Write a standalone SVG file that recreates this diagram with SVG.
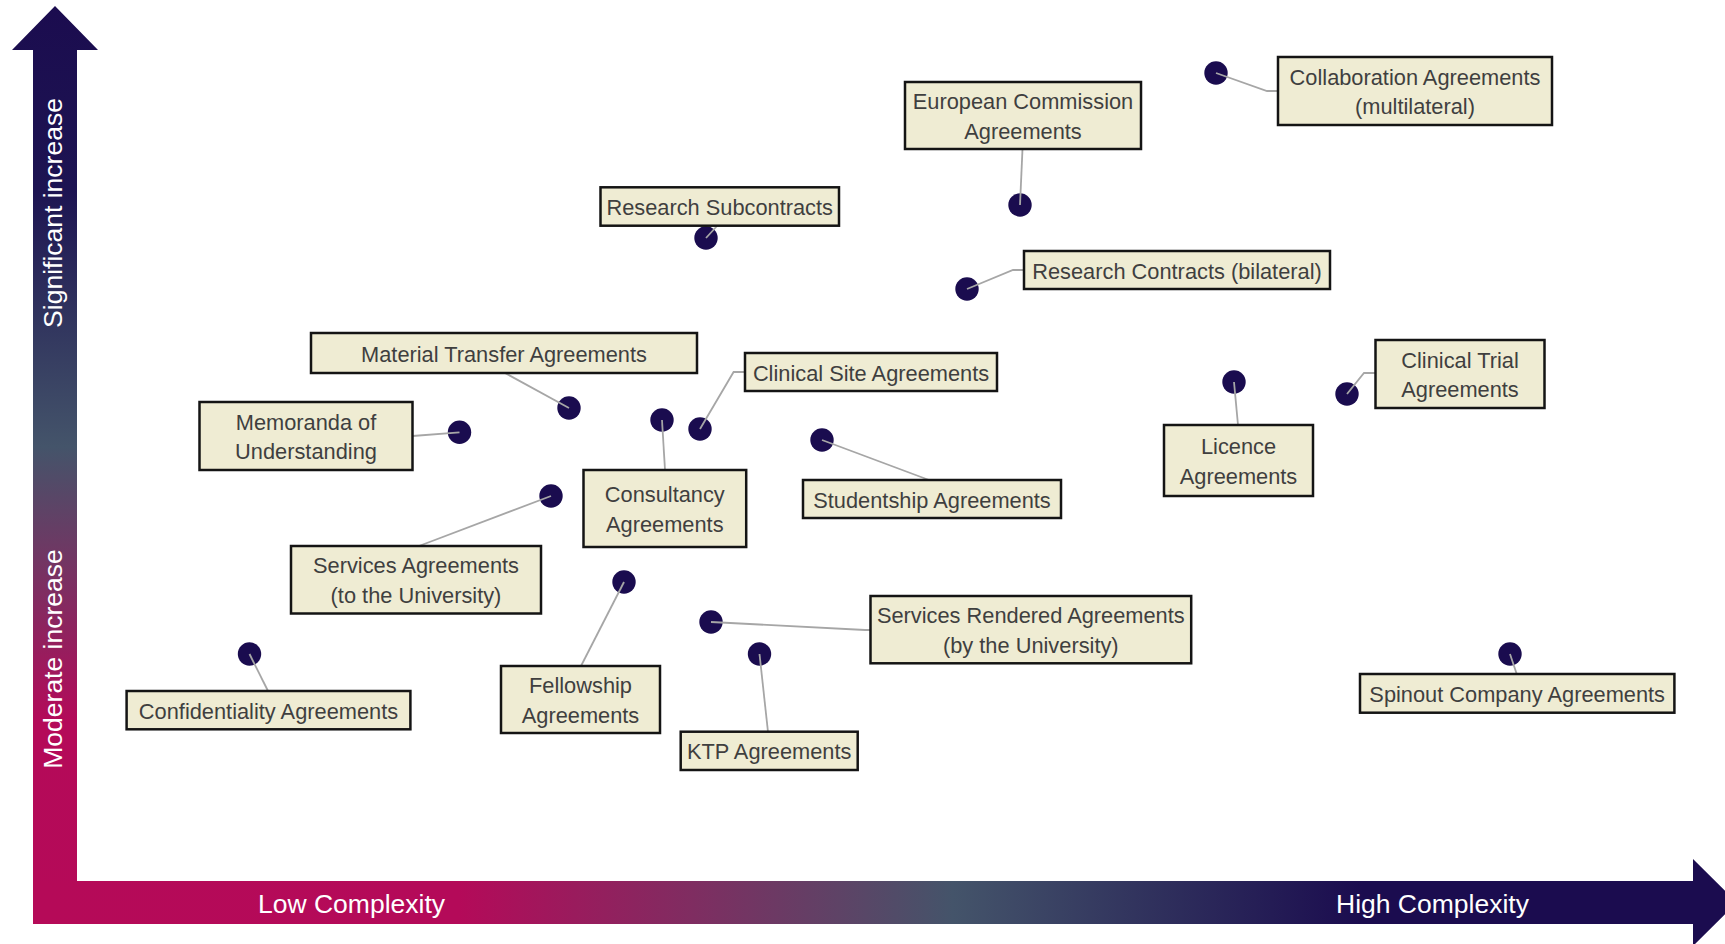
<svg xmlns="http://www.w3.org/2000/svg" width="1725" height="944" viewBox="0 0 1725 944">
<defs>
<linearGradient id="gv" gradientUnits="userSpaceOnUse" x1="0" y1="6" x2="0" y2="924">
<stop offset="0" stop-color="#1B0C4F"/>
<stop offset="0.2" stop-color="#1D1452"/>
<stop offset="0.48" stop-color="#44546A"/>
<stop offset="0.78" stop-color="#B40A59"/>
<stop offset="1" stop-color="#B50A58"/>
</linearGradient>
<linearGradient id="gh" gradientUnits="userSpaceOnUse" x1="33" y1="0" x2="1737" y2="0">
<stop offset="0" stop-color="#B50A58"/>
<stop offset="0.25" stop-color="#B40A59"/>
<stop offset="0.54" stop-color="#44546A"/>
<stop offset="0.78" stop-color="#1B0C4F"/>
<stop offset="1" stop-color="#1B0C4F"/>
</linearGradient>
<style>
.box{fill:#EFECD3;stroke:#141414;stroke-width:2.5}
.dot{fill:#1A0C4F}
.lbl{font-family:"Liberation Sans",Arial,sans-serif;font-size:21.8px;fill:#3F3F3F;text-anchor:middle}
.ax{font-family:"Liberation Sans",Arial,sans-serif;font-size:26.5px;fill:#FFFFFF}
.con{fill:none;stroke:#A6A6A6;stroke-width:1.8}
</style>
</defs>
<rect width="1725" height="944" fill="#FFFFFF"/>

<g id="axes">
<path d="M55,6 L98,50 L77,50 L77,924 L33,924 L33,50 L12,50 Z" fill="url(#gv)"/>
<path d="M33,881 L1693,881 L1693,859 L1737,902.5 L1693,946 L1693,924 L33,924 Z" fill="url(#gh)"/>
<text class="ax" x="258" y="912.5">Low Complexity</text>
<text class="ax" x="1336" y="912.5">High Complexity</text>
<text class="ax" text-anchor="middle" transform="translate(62,213) rotate(-90)">Significant increase</text>
<text class="ax" text-anchor="middle" transform="translate(62,659) rotate(-90)">Moderate increase</text>
</g>

<g id="dots">
<circle class="dot" cx="1216" cy="73" r="11.7"/>
<circle class="dot" cx="1020" cy="205" r="11.7"/>
<circle class="dot" cx="706" cy="238" r="11.7"/>
<circle class="dot" cx="967" cy="289" r="11.7"/>
<circle class="dot" cx="569" cy="408" r="11.7"/>
<circle class="dot" cx="700" cy="429" r="11.7"/>
<circle class="dot" cx="459.5" cy="432.3" r="11.7"/>
<circle class="dot" cx="662" cy="420" r="11.7"/>
<circle class="dot" cx="822" cy="440" r="11.7"/>
<circle class="dot" cx="1234" cy="382" r="11.7"/>
<circle class="dot" cx="1347" cy="394" r="11.7"/>
<circle class="dot" cx="551" cy="496" r="11.7"/>
<circle class="dot" cx="624" cy="582" r="11.7"/>
<circle class="dot" cx="711" cy="622" r="11.7"/>
<circle class="dot" cx="759.5" cy="654" r="11.7"/>
<circle class="dot" cx="249.5" cy="654" r="11.7"/>
<circle class="dot" cx="1510" cy="654" r="11.7"/>
</g>

<g id="connectors">
<path class="con" d="M1216,73 L1267,91 L1278,91"/>
<path class="con" d="M1022.5,149 L1020,205"/>
<path class="con" d="M706,238 L717,226"/>
<path class="con" d="M967,289 L1013,270 L1024,270"/>
<path class="con" d="M505,373 L569,408"/>
<path class="con" d="M700,429 L733.6,372 L745,372"/>
<path class="con" d="M412.6,436 L459.5,432.3"/>
<path class="con" d="M662,420 L665,470"/>
<path class="con" d="M822,440 L929,480"/>
<path class="con" d="M1234,382 L1238,425"/>
<path class="con" d="M1347,394 L1364,373 L1375.5,373"/>
<path class="con" d="M419,546 L551,496"/>
<path class="con" d="M581,666 L624,582"/>
<path class="con" d="M711,622 L865,630 L870.5,630"/>
<path class="con" d="M759.5,654 L768,732"/>
<path class="con" d="M249.5,654 L268,691"/>
<path class="con" d="M1510,654 L1516.7,674"/>
</g>

<g id="n-collaboration">
<rect class="box" x="1278" y="57" width="274" height="68"/>
<text class="lbl" x="1415" y="84.5">Collaboration Agreements</text>
<text class="lbl" x="1415" y="114.2">(multilateral)</text>
</g>
<g id="n-european">
<rect class="box" x="905" y="82" width="236" height="67"/>
<text class="lbl" x="1023" y="109.2">European Commission</text>
<text class="lbl" x="1023" y="138.9">Agreements</text>
</g>
<g id="n-subcontracts">
<rect class="box" x="600.5" y="187.3" width="238.5" height="38.4"/>
<text class="lbl" x="719.7" y="215">Research Subcontracts</text>
</g>
<g id="n-research-contracts">
<rect class="box" x="1024" y="251" width="306" height="38"/>
<text class="lbl" x="1177" y="278.5">Research Contracts (bilateral)</text>
</g>
<g id="n-mta">
<rect class="box" x="311" y="333" width="386" height="40"/>
<text class="lbl" x="504" y="361.5">Material Transfer Agreements</text>
</g>
<g id="n-clinical-site">
<rect class="box" x="745" y="353" width="252" height="38"/>
<text class="lbl" x="871" y="380.5">Clinical Site Agreements</text>
</g>
<g id="n-memoranda">
<rect class="box" x="199.5" y="402" width="213" height="68"/>
<text class="lbl" x="306" y="429.6">Memoranda of</text>
<text class="lbl" x="306" y="459.3">Understanding</text>
</g>
<g id="n-consultancy">
<rect class="box" x="583.5" y="470" width="162.7" height="77"/>
<text class="lbl" x="664.8" y="502">Consultancy</text>
<text class="lbl" x="664.8" y="531.7">Agreements</text>
</g>
<g id="n-studentship">
<rect class="box" x="803" y="480" width="258" height="38"/>
<text class="lbl" x="932" y="507.5">Studentship Agreements</text>
</g>
<g id="n-licence">
<rect class="box" x="1164" y="425" width="149" height="71"/>
<text class="lbl" x="1238.5" y="454">Licence</text>
<text class="lbl" x="1238.5" y="483.7">Agreements</text>
</g>
<g id="n-clinical-trial">
<rect class="box" x="1375.5" y="340" width="169" height="68"/>
<text class="lbl" x="1460" y="367.5">Clinical Trial</text>
<text class="lbl" x="1460" y="397.2">Agreements</text>
</g>
<g id="n-services">
<rect class="box" x="291" y="546" width="250" height="67.5"/>
<text class="lbl" x="416" y="573.4">Services Agreements</text>
<text class="lbl" x="416" y="603.1">(to the University)</text>
</g>
<g id="n-fellowship">
<rect class="box" x="501" y="666" width="159" height="67"/>
<text class="lbl" x="580.5" y="693.2">Fellowship</text>
<text class="lbl" x="580.5" y="722.9">Agreements</text>
</g>
<g id="n-services-rendered">
<rect class="box" x="870.5" y="596" width="320.7" height="67.3"/>
<text class="lbl" x="1030.8" y="623.3">Services Rendered Agreements</text>
<text class="lbl" x="1030.8" y="653">(by the University)</text>
</g>
<g id="n-ktp">
<rect class="box" x="680.7" y="731.7" width="177" height="38.3"/>
<text class="lbl" x="769.2" y="759.3">KTP Agreements</text>
</g>
<g id="n-confidentiality">
<rect class="box" x="126.6" y="691" width="283.8" height="38.3"/>
<text class="lbl" x="268.5" y="718.6">Confidentiality Agreements</text>
</g>
<g id="n-spinout">
<rect class="box" x="1360" y="674" width="314.4" height="38.7"/>
<text class="lbl" x="1517.2" y="701.9">Spinout Company Agreements</text>
</g>
</svg>
